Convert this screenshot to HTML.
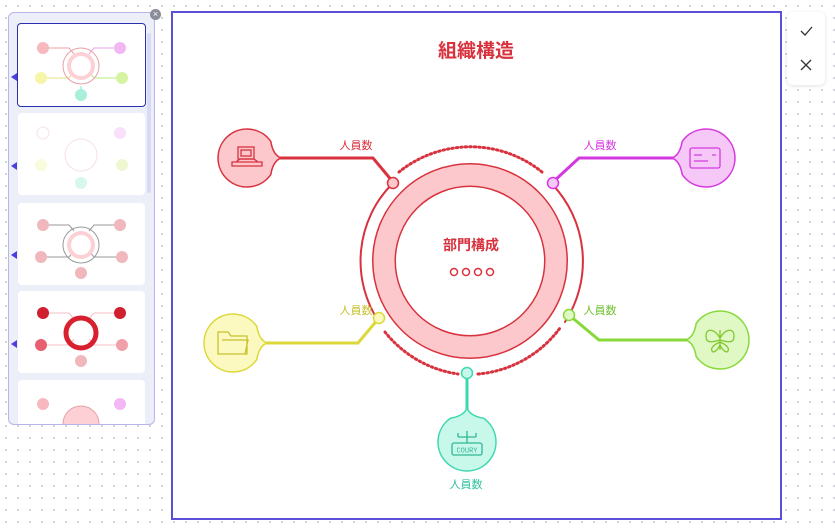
<!DOCTYPE html>
<html><head><meta charset="utf-8"><style>
body{margin:0;width:835px;height:529px;overflow:hidden;background:#fff;background-image:radial-gradient(#cfd0d8 1px,transparent 1.2px);background-size:12px 12px;font-family:"Liberation Sans","Noto Sans CJK JP",sans-serif;position:relative}
.frame{position:absolute;left:171px;top:11px;width:607px;height:505px;border:2px solid #5b4fd8;background:#fff}
.panel{position:absolute;left:8px;top:12px;width:145px;height:411px;background:#eceef8;border:1px solid #b8b5ec;border-radius:6px;overflow:hidden}
.th{position:absolute;left:9px;width:127px;height:82px;background:#fff;border-radius:4px}
.tool{position:absolute;left:787px;top:12px;width:38px;height:73px;background:#fff;border-radius:6px;box-shadow:0 1px 4px rgba(0,0,0,.12)}
.arr{position:absolute;left:2px;width:0;height:0;border-top:4px solid transparent;border-bottom:4px solid transparent;border-right:6px solid #4b3fe0}
</style></head><body>
<div class="panel">
 <div class="th" style="top:10px;border:1.5px solid #2a2fb0;left:8px"><svg width="127" height="82"><g fill="none" stroke-width="1"><path d="M31 24h20l5 6" stroke="#f0a0a8"/><path d="M96 24h-20l-5 6" stroke="#eaa0ea"/><path d="M29 54h22l5-6" stroke="#e8e080"/><path d="M98 54h-22l-5-6" stroke="#b8e880"/><path d="M63 62v4" stroke="#80e0c0"/></g><circle cx="63" cy="42" r="18" fill="none" stroke="#e8a0a8"/><circle cx="63" cy="42" r="14" fill="#fcd0d4"/><circle cx="63" cy="42" r="10" fill="#fff"/><circle cx="25" cy="24" r="6" fill="#f7b8c0"/><circle cx="102" cy="24" r="6" fill="#f3b8f3"/><circle cx="23" cy="54" r="6" fill="#f6f5a8"/><circle cx="104" cy="54" r="6" fill="#d5f3a0"/><circle cx="63" cy="71" r="6" fill="#a8f0dc"/></svg></div>
 <div class="th" style="top:100px"><svg width="127" height="82"><circle cx="63" cy="42" r="16" fill="none" stroke="#f5e0e4"/><circle cx="25" cy="20" r="6" fill="none" stroke="#f8e0e4"/><circle cx="102" cy="20" r="6" fill="#fbe0fb"/><circle cx="23" cy="52" r="6" fill="#fafadc"/><circle cx="104" cy="52" r="6" fill="#eef8d0"/><circle cx="63" cy="70" r="6" fill="#d8f8ee"/></svg></div>
 <div class="th" style="top:190px"><svg width="127" height="82"><g fill="none" stroke="#999" stroke-width="1"><path d="M31 22h20l5 6M96 22h-20l-5 6M29 54h22l5-6M98 54h-22l-5-6"/></g><circle cx="63" cy="42" r="18" fill="none" stroke="#999"/><circle cx="63" cy="42" r="14" fill="#fcd0d4"/><circle cx="63" cy="42" r="10" fill="#fff"/><circle cx="25" cy="22" r="6" fill="#f0b8bc"/><circle cx="102" cy="22" r="6" fill="#f0b8bc"/><circle cx="23" cy="54" r="6" fill="#f0b8bc"/><circle cx="104" cy="54" r="6" fill="#f0b8bc"/><circle cx="63" cy="70" r="6" fill="#f0b8bc"/></svg></div>
 <div class="th" style="top:278px"><svg width="127" height="82"><g fill="none" stroke="#f4c0c4" stroke-width="1"><path d="M31 22h20l5 6M96 22h-20l-5 6M29 54h22l5-6M98 54h-22l-5-6"/></g><circle cx="63" cy="42" r="15" fill="none" stroke="#d8202e" stroke-width="5"/><circle cx="25" cy="22" r="6" fill="#d02030"/><circle cx="102" cy="22" r="6" fill="#d02030"/><circle cx="23" cy="54" r="6" fill="#e86070"/><circle cx="104" cy="54" r="6" fill="#f0a0a8"/><circle cx="63" cy="70" r="6" fill="#f0b8bc"/></svg></div>
 <div class="th" style="top:367px"><svg width="127" height="82"><circle cx="63" cy="44" r="18" fill="#fcd0d4" stroke="#e8a0a8"/><circle cx="25" cy="24" r="6" fill="#f7b8c0"/><circle cx="102" cy="24" r="6" fill="#f3b8f3"/></svg></div>
 <div class="arr" style="top:60px"></div><div class="arr" style="top:149px"></div><div class="arr" style="top:238px"></div><div class="arr" style="top:327px"></div>
 <div style="position:absolute;left:138px;top:20px;width:4px;height:160px;background:#d8daf5;border-radius:2px"></div>
</div>
<div style="position:absolute;left:150px;top:9px;width:11px;height:11px;border-radius:50%;background:#8a8d99;color:#fff;font-size:9px;line-height:11px;text-align:center">×</div>
<div class="frame"></div>
<svg style="position:absolute;left:0;top:0" width="835" height="529">
<defs><path id="nd" d="M34 0 Q26 -3 23.8 -16.6 A29 29 0 1 0 23.8 16.6 Q26 3 34 0 Z"/></defs>
<g fill="none" stroke-linecap="round">
 <path d="M392 184 A110 110 0 0 0 379 322" stroke="#d8323e" stroke-width="2"/>
 <path d="M552 184 A112 112 0 0 1 565 322" stroke="#d8323e" stroke-width="2"/>
 <path d="M399 172 A114 114 0 0 1 542 172" stroke="#d8323e" stroke-width="3" stroke-dasharray="1.5 3"/>
 <path d="M385 332 A114 114 0 0 0 458 374" stroke="#d8323e" stroke-width="3" stroke-dasharray="1.5 3"/>
 <path d="M478 374 A114 114 0 0 0 560 328" stroke="#d8323e" stroke-width="3" stroke-dasharray="1.5 3"/>
 <circle cx="470" cy="261" r="86" stroke="#d8323e" stroke-width="24"/>
 <circle cx="470" cy="261" r="86" stroke="#fcc8cc" stroke-width="21"/>
 <polyline points="278,158 373,158 393,182" stroke="#d8323e" stroke-width="3"/>
 <polyline points="676,158 579,158 553,182" stroke="#d638e0" stroke-width="3"/>
 <polyline points="262,343 358,343 379,318" stroke="#dcd83a" stroke-width="3"/>
 <polyline points="690,340 599,340 569,315" stroke="#88d83a" stroke-width="3"/>
 <line x1="467" y1="373" x2="467" y2="413" stroke="#3ed8b0" stroke-width="3"/>
</g>
<use href="#nd" transform="translate(247,158)" fill="#fcc8cc" stroke="#d8323e" stroke-width="1.5"/>
<use href="#nd" transform="translate(706,158) rotate(180)" fill="#f6c8f8" stroke="#d638e0" stroke-width="1.5"/>
<use href="#nd" transform="translate(233,343)" fill="#fbf9c0" stroke="#dcd83a" stroke-width="1.5"/>
<use href="#nd" transform="translate(720,340) rotate(180)" fill="#e0f8c4" stroke="#88d83a" stroke-width="1.5"/>
<use href="#nd" transform="translate(467,442) rotate(-90)" fill="#c8f8ea" stroke="#3ed8b0" stroke-width="1.5"/>
<circle cx="393" cy="183" r="5.5" fill="#fcc8cc" stroke="#d8323e" stroke-width="1.5"/>
<circle cx="553" cy="183" r="5.5" fill="#f6c8f8" stroke="#d638e0" stroke-width="1.5"/>
<circle cx="379" cy="318" r="5.5" fill="#fbf9c0" stroke="#dcd83a" stroke-width="1.5"/>
<circle cx="569" cy="315" r="5.5" fill="#e0f8c4" stroke="#88d83a" stroke-width="1.5"/>
<circle cx="467" cy="373" r="5.5" fill="#c8f8ea" stroke="#3ed8b0" stroke-width="1.5"/>
<g fill="none" stroke="#d8323e" stroke-width="1.5"><circle cx="454" cy="272" r="3.5"/><circle cx="466" cy="272" r="3.5"/><circle cx="478" cy="272" r="3.5"/><circle cx="490" cy="272" r="3.5"/></g>
<g fill="none" stroke-width="1.3">
 <g stroke="#d8323e"><rect x="238" y="147" width="16" height="12"/><rect x="241" y="150" width="10" height="6"/><path d="M232 166h30v-4h-30zM236 162l4-3h14l4 3"/></g>
 <g stroke="#d638e0"><rect x="690" y="148" width="30" height="20" rx="2"/><path d="M694 155h8M694 161h14M712 155h4"/></g>
 <g stroke="#c8c030"><path d="M218 332h10l3 4h16v18h-29z M222 340h26l-3 14"/></g>
 <g stroke="#80c830"><path d="M720 330v20M720 338c-6-10-14-10-14-2s6 6 14 4M720 338c6-10 14-10 14-2s-6 6-14 4M720 342c-5 2-10 6-8 9s6-2 8-6M720 342c5 2 10 6 8 9s-6-2-8-6"/></g>
 <g stroke="#30b898"><rect x="452" y="443" width="30" height="12" rx="2"/><path d="M467 443v-6M458 437h18M458 437v-4M476 437v-4M467 437v-6"/></g>
</g>
<text x="467" y="452.5" font-size="7" fill="#30b898" text-anchor="middle" font-family="Liberation Mono,monospace">COURY</text>
<g font-family="Liberation Sans,Noto Sans CJK JP,sans-serif" font-size="11">
 <text x="356" y="149" fill="#d8323e" text-anchor="middle">人員数</text>
 <text x="600" y="149" fill="#d638e0" text-anchor="middle">人員数</text>
 <text x="356" y="314" fill="#c8c030" text-anchor="middle">人員数</text>
 <text x="600" y="314" fill="#70c030" text-anchor="middle">人員数</text>
 <text x="466" y="488" fill="#30c0a0" text-anchor="middle">人員数</text>
 <text x="476" y="57" fill="#d8323e" font-size="19" font-weight="bold" text-anchor="middle">組織構造</text>
 <text x="471" y="250" fill="#d8323e" font-size="14" font-weight="bold" text-anchor="middle">部門構成</text>
</g>
</svg>
<div class="tool"><svg width="38" height="73"><path d="M14 19l4 4 7-8" fill="none" stroke="#333" stroke-width="1.3"/><path d="M14 48l10 10M24 48l-10 10" fill="none" stroke="#333" stroke-width="1.3"/></svg></div>
</body></html>
